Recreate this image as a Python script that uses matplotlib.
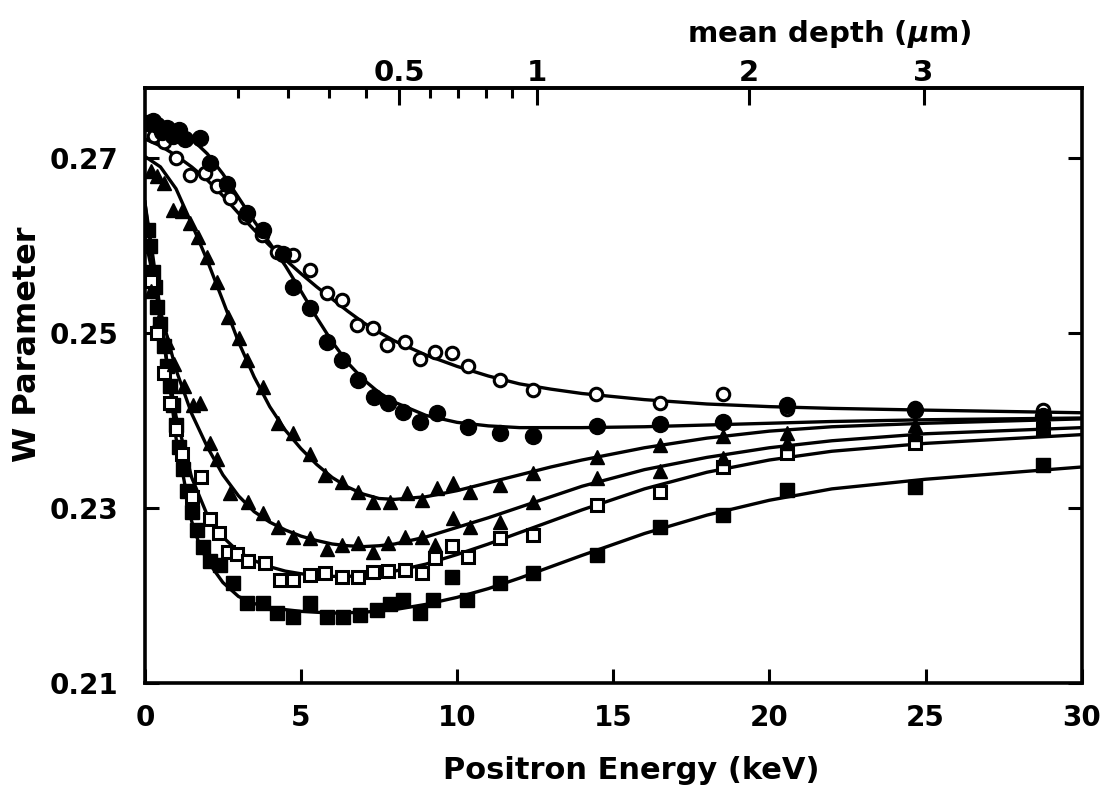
import numpy as np
import matplotlib
matplotlib.use("Agg")
import matplotlib.pyplot as plt
from matplotlib.ticker import FixedLocator, NullFormatter

# ---------------- data ----------------
# open circles
E_A = [0.3, 0.6, 1.0, 1.44, 1.92, 2.3, 2.72, 3.2, 3.75, 4.23, 4.74, 5.28, 5.83, 6.31, 6.79,
       7.30, 7.75, 8.33, 8.81, 9.29, 9.83, 10.34, 11.37, 12.42, 14.45, 16.49, 18.51, 20.56,
       24.65, 28.75]
W_A = [0.2725, 0.2718, 0.2700, 0.2681, 0.2683, 0.2668, 0.2654, 0.2633, 0.2612, 0.2593, 0.2589,
       0.2572, 0.2546, 0.2538, 0.2509, 0.2506, 0.2486, 0.2490, 0.2471, 0.2478, 0.2477, 0.2463,
       0.2446, 0.2435, 0.2431, 0.2420, 0.2431, 0.2413, 0.2414, 0.2412]
# filled circles
E_B = [0.1, 0.25, 0.4, 0.55, 0.7, 0.9, 1.1, 1.3, 1.76, 2.08, 2.63, 3.27, 3.78, 4.42, 4.74,
       5.28, 5.83, 6.31, 6.82, 7.35, 7.78, 8.26, 8.81, 9.35, 10.34, 11.37, 12.42, 14.47,
       16.49, 18.51, 20.56, 24.65, 28.75]
W_B = [0.2740, 0.2742, 0.2738, 0.2730, 0.2735, 0.2725, 0.2732, 0.2722, 0.2723, 0.2694, 0.2671,
       0.2637, 0.2618, 0.2591, 0.2553, 0.2529, 0.2490, 0.2469, 0.2446, 0.2427, 0.2420, 0.2410,
       0.2398, 0.2409, 0.2393, 0.2386, 0.2383, 0.2394, 0.2396, 0.2398, 0.2418, 0.2412, 0.2405]
# filled triangles (upper set)
E_C = [0.2, 0.4, 0.6, 0.9, 1.2, 1.44, 1.7, 1.98, 2.3, 2.66, 3.0, 3.27, 3.78, 4.26, 4.74, 5.28,
       5.76, 6.31, 6.82, 7.30, 7.84, 8.39, 8.87, 9.35, 9.86, 10.41, 11.37, 12.42, 14.47, 16.49,
       18.51, 20.56, 24.65, 28.75]
W_C = [0.2685, 0.2680, 0.2672, 0.2641, 0.2640, 0.2626, 0.2610, 0.2587, 0.2559, 0.2518, 0.2495,
       0.2469, 0.2438, 0.2397, 0.2386, 0.2362, 0.2338, 0.2330, 0.2318, 0.2307, 0.2307, 0.2317,
       0.2309, 0.2323, 0.2329, 0.2318, 0.2326, 0.2340, 0.2358, 0.2372, 0.2382, 0.2386, 0.2395,
       0.2400]
# filled triangles (lower set)
E_D = [0.2, 0.45, 0.7, 0.95, 1.25, 1.55, 1.76, 2.08, 2.3, 2.72, 3.3, 3.78, 4.26, 4.74, 5.28,
       5.83, 6.31, 6.82, 7.30, 7.78, 8.33, 8.87, 9.29, 9.86, 10.41, 11.37, 12.42, 14.47, 16.49,
       18.51, 20.56, 24.65, 28.75]
W_D = [0.2548, 0.2515, 0.2490, 0.2465, 0.2440, 0.2418, 0.2420, 0.2374, 0.2356, 0.2317, 0.2307,
       0.2294, 0.2278, 0.2267, 0.2266, 0.2253, 0.2258, 0.2260, 0.2250, 0.2260, 0.2267, 0.2267,
       0.2258, 0.2289, 0.2278, 0.2284, 0.2307, 0.2334, 0.2343, 0.2357, 0.2374, 0.2385, 0.2393]
# open squares
E_E = [0.2, 0.4, 0.6, 0.8, 1.0, 1.2, 1.5, 1.8, 2.08, 2.38, 2.66, 2.95, 3.3, 3.84, 4.32, 4.74,
       5.28, 5.76, 6.31, 6.82, 7.30, 7.78, 8.33, 8.87, 9.29, 9.83, 10.34, 11.37, 12.42, 14.47,
       16.49, 18.51, 20.56, 24.65, 28.75]
W_E = [0.2560, 0.2500, 0.2455, 0.2420, 0.2390, 0.2362, 0.2313, 0.2336, 0.2288, 0.2272, 0.2250,
       0.2248, 0.2239, 0.2237, 0.2218, 0.2218, 0.2223, 0.2226, 0.2221, 0.2221, 0.2227, 0.2228,
       0.2229, 0.2226, 0.2243, 0.2257, 0.2244, 0.2266, 0.2269, 0.2303, 0.2318, 0.2347, 0.2363,
       0.2375, 0.2391]
# filled squares
E_F = [0.1, 0.18, 0.25, 0.32, 0.4, 0.5, 0.6, 0.7, 0.8, 0.9, 1.0, 1.1, 1.22, 1.34, 1.5, 1.66,
       1.85, 2.08, 2.4, 2.82, 3.28, 3.79, 4.23, 4.74, 5.28, 5.82, 6.34, 6.88, 7.43, 7.84, 8.26,
       8.81, 9.22, 9.83, 10.31, 11.37, 12.42, 14.47, 16.49, 18.51, 20.56, 24.65, 28.75]
W_F = [0.2618, 0.2600, 0.2570, 0.2553, 0.2530, 0.2511, 0.2485, 0.2462, 0.2440, 0.2418, 0.2395,
       0.2370, 0.2345, 0.2320, 0.2295, 0.2275, 0.2255, 0.2240, 0.2235, 0.2214, 0.2191, 0.2191,
       0.2180, 0.2175, 0.2192, 0.2176, 0.2176, 0.2178, 0.2184, 0.2190, 0.2195, 0.2180, 0.2195,
       0.2221, 0.2195, 0.2214, 0.2226, 0.2246, 0.2278, 0.2292, 0.2321, 0.2324, 0.2349]

# fitted curves
FE = [0, 0.5, 1, 1.5, 2, 2.5, 3, 3.5, 4, 4.5, 5, 5.5, 6, 6.5, 7, 7.5, 8, 9, 10, 11, 12, 13, 14,
      16, 18, 20, 22, 25, 30]
FW_A = [0.2722, 0.2714, 0.2703, 0.2690, 0.2675, 0.2657, 0.2637, 0.2618, 0.2600, 0.2584, 0.2568,
        0.2553, 0.2539, 0.2525, 0.2512, 0.2501, 0.2491, 0.2475, 0.2462, 0.2451, 0.2442, 0.2436,
        0.2431, 0.2424, 0.2419, 0.2416, 0.2414, 0.2412, 0.2409]
FW_B = [0.2738, 0.2736, 0.2731, 0.2722, 0.2705, 0.2682, 0.2655, 0.2628, 0.2603, 0.2577, 0.2548,
        0.2518, 0.2490, 0.2466, 0.2447, 0.2432, 0.2421, 0.2406, 0.2398, 0.2394, 0.2392, 0.2392,
        0.2392, 0.2393, 0.2395, 0.2397, 0.2399, 0.2401, 0.2403]
FW_C = [0.2702, 0.2690, 0.2665, 0.2625, 0.2583, 0.2537, 0.2490, 0.2450, 0.2416, 0.2389, 0.2368,
        0.2350, 0.2335, 0.2324, 0.2316, 0.2311, 0.2310, 0.2313, 0.2320, 0.2329, 0.2338, 0.2347,
        0.2355, 0.2369, 0.2380, 0.2388, 0.2393, 0.2397, 0.2402]
FW_D = [0.2610, 0.2525, 0.2458, 0.2408, 0.2370, 0.2338, 0.2314, 0.2296, 0.2284, 0.2275, 0.2268,
        0.2263, 0.2259, 0.2257, 0.2256, 0.2257, 0.2259, 0.2267, 0.2278, 0.2289, 0.2301, 0.2313,
        0.2325, 0.2344, 0.2358, 0.2369, 0.2377, 0.2385, 0.2392]
FW_E = [0.2650, 0.2510, 0.2405, 0.2335, 0.2292, 0.2267, 0.2250, 0.2240, 0.2233, 0.2228, 0.2225,
        0.2223, 0.2222, 0.2222, 0.2223, 0.2225, 0.2228, 0.2236, 0.2247, 0.2259, 0.2272, 0.2285,
        0.2298, 0.2322, 0.2341, 0.2355, 0.2365, 0.2374, 0.2384]
FE_F = [0, 0.25, 0.5, 0.75, 1.0, 1.25, 1.5, 1.75, 2.0, 2.5, 3.0, 3.5, 4, 5, 6, 7, 8, 9, 10, 11,
        12, 13, 14, 16, 18, 20, 22, 25, 30]
FW_F = [0.2650, 0.2590, 0.2525, 0.2455, 0.2380, 0.2333, 0.2285, 0.2258, 0.2240, 0.2215, 0.2199,
        0.2191, 0.2186, 0.2182, 0.2180, 0.2181, 0.2184, 0.2190, 0.2198, 0.2208, 0.2220, 0.2233,
        0.2246, 0.2271, 0.2292, 0.2309, 0.2322, 0.2333, 0.2347]

x_ticks = [0, 5, 10, 15, 20, 25, 30]
y_ticks = [0.21, 0.23, 0.25, 0.27]
y_tick_labels = ["0.21", "0.23", "0.25", "0.27"]
depth_major = [0.5, 1, 2, 3]
depth_labels = ["0.5", "1", "2", "3"]
depth_minor = [0.1, 0.2, 0.3, 0.4, 0.6, 0.7, 0.8, 0.9]

# ---------------- figure ----------------
plt.rcParams['font.family'] = ['DejaVu Sans']
plt.rcParams['font.weight'] = 'bold'
plt.rcParams['axes.labelweight'] = 'bold'
plt.rcParams['mathtext.default'] = 'it'

fig = plt.figure(figsize=(11.14, 7.87), dpi=100)
ax = fig.add_axes([0.130, 0.132, 0.841, 0.756])

lw_fit = 2.4
for fx, fy in [(FE, FW_A), (FE, FW_B), (FE, FW_C), (FE, FW_D), (FE, FW_E), (FE_F, FW_F)]:
    ax.plot(fx, fy, '-', color='black', lw=lw_fit, zorder=2)

ax.plot(E_F, W_F, 's', ms=10, mfc='black', mec='black', ls='none', zorder=3)
ax.plot(E_E, W_E, 's', ms=9, mfc='white', mec='black', mew=2.2, ls='none', zorder=3)
ax.plot(E_D, W_D, '^', ms=10, mfc='black', mec='black', ls='none', zorder=3)
ax.plot(E_C, W_C, '^', ms=10, mfc='black', mec='black', ls='none', zorder=3)
ax.plot(E_A, W_A, 'o', ms=9, mfc='white', mec='black', mew=2.2, ls='none', zorder=3)
ax.plot(E_B, W_B, 'o', ms=11.5, mfc='black', mec='black', ls='none', zorder=4)

ax.set_xlim(0, 30)
ax.set_ylim(0.21, 0.278)
ax.set_xticks(x_ticks)
ax.set_xticklabels([str(t) for t in x_ticks])
ax.set_yticks(y_ticks)
ax.set_yticklabels(y_tick_labels)

for s in ax.spines.values():
    s.set_linewidth(2.6)

ax.tick_params(axis='both', which='major', direction='in', length=10, width=2.2,
               labelsize=20, top=False, right=True)
ax.tick_params(axis='x', pad=15)
ax.tick_params(axis='y', pad=19)
for lab in ax.get_xticklabels() + ax.get_yticklabels():
    lab.set_fontweight('bold')

ax.set_xlabel('Positron Energy (keV)', fontsize=22, fontweight='bold')
ax.xaxis.set_label_coords(0.519, -0.122)
ax.set_ylabel('W Parameter', fontsize=23, fontweight='bold')
ax.yaxis.set_label_coords(-0.109, 0.57)

E0 = 12.55
def fwd(E):
    E = np.asarray(E, dtype=float)
    return (np.clip(E, 0, None) / E0) ** 1.6

def inv(z):
    z = np.asarray(z, dtype=float)
    return E0 * np.clip(z, 0, None) ** 0.625

sec = ax.secondary_xaxis('top', functions=(fwd, inv))
sec.xaxis.set_major_locator(FixedLocator(depth_major))
sec.set_xticklabels(depth_labels)
sec.xaxis.set_minor_locator(FixedLocator(depth_minor))
sec.xaxis.set_minor_formatter(NullFormatter())
sec.tick_params(axis='x', which='major', direction='in', length=12, width=2.2,
                labelsize=21, pad=1)
sec.tick_params(axis='x', which='minor', direction='in', length=7, width=2.2)
for lab in sec.get_xticklabels():
    lab.set_fontweight('bold')
sec.spines['top'].set_linewidth(2.6)
sec.set_xlabel(r'mean depth ($\mu$m)', fontsize=21, fontweight='bold', labelpad=12)
sec.xaxis.label.set_x(0.731)

fig.savefig('out.png', dpi=100)
